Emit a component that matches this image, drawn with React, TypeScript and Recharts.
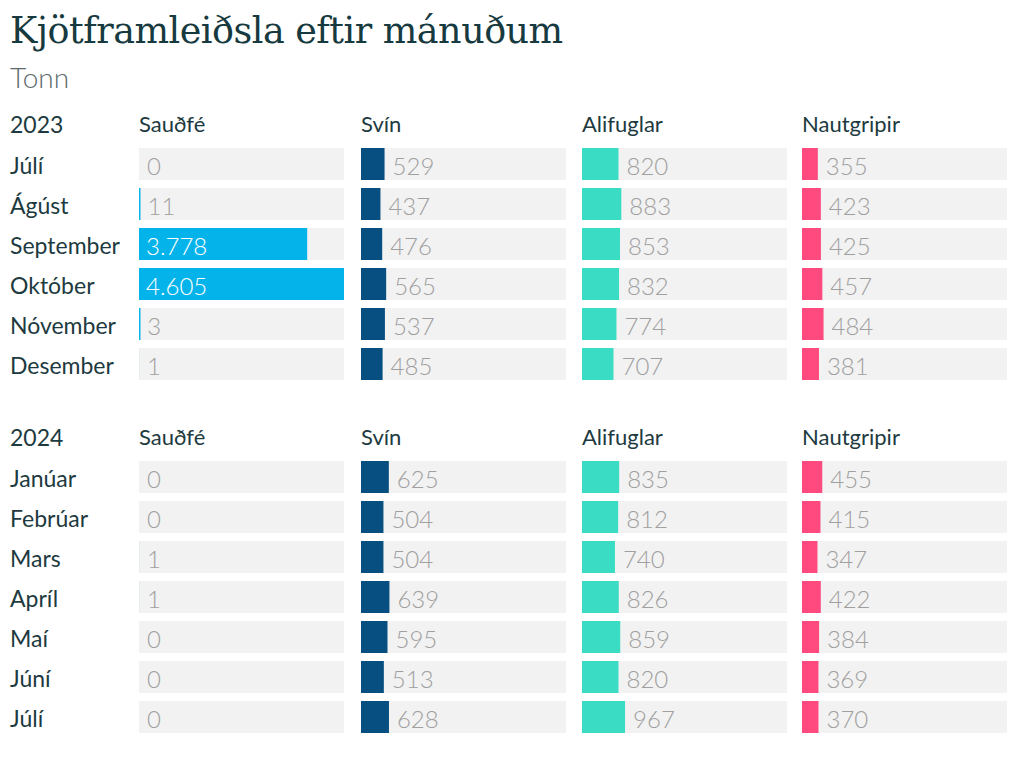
import React from "react";
import { BarChart, Bar, XAxis, YAxis, LabelList } from "recharts";

const categories = ["Sauðfé", "Svín", "Alifuglar", "Nautgripir"];
const colors = ["#04b3ea", "#064f80", "#3adcc3", "#fe4a7e"];

const months2023 = ["Júlí", "Ágúst", "September", "Október", "Nóvember", "Desember"];
const saudfe2023 = [0, 11, 3778, 4605, 3, 1];
const svin2023 = [529, 437, 476, 565, 537, 485];
const alifuglar2023 = [820, 883, 853, 832, 774, 707];
const nautgripir2023 = [355, 423, 425, 457, 484, 381];

const months2024 = ["Janúar", "Febrúar", "Mars", "Apríl", "Maí", "Júní", "Júlí"];
const saudfe2024 = [0, 0, 1, 1, 0, 0, 0];
const svin2024 = [625, 504, 504, 639, 595, 513, 628];
const alifuglar2024 = [835, 812, 740, 826, 859, 820, 967];
const nautgripir2024 = [455, 415, 347, 422, 384, 369, 370];

const MAX = 4605;
const colLeft = [139, 361, 582, 802];
const colWidth = 205;
const rowPitch = 40;

const textDark = "#1d3a40";
const FONT = "Lato, 'Noto Sans', sans-serif";

const fmt = (v: number) => String(v).replace(/\B(?=(\d{3})+(?!\d))/g, ".");

function ValueLabel(props: any) {
  const { x, y, width, height, value } = props;
  const inside = width > 60;
  return (
    <text
      x={inside ? x + 7 : x + Math.max(width, 0) + 8}
      y={y + height / 2 + 1}
      dominantBaseline="central"
      fill={inside ? "#ffffff" : "#a0a0a0"}
      fontFamily={FONT}
      fontWeight={300}
      fontSize={24}
    >
      {fmt(value)}
    </text>
  );
}

function BarShape(props: any) {
  const { x, y, width, height, fill, value } = props;
  const v = Array.isArray(value) ? value[1] : value;
  let w = width;
  if (v >= 2 && w < 1.5) w = 1.5;
  if (!(w > 0)) return null;
  return <rect x={x} y={y} width={w} height={height} fill={fill} />;
}

function MonthTick(props: any) {
  const { y, payload } = props;
  return (
    <text x={10} y={y + 1} dominantBaseline="central" fill={textDark} fontFamily={FONT} fontSize={23}>
      {payload.value}
    </text>
  );
}

function Section({ top, year, months, series }: { top: number; year: string; months: string[]; series: number[][] }) {
  const h = months.length * rowPitch;
  return (
    <>
      <div style={{ position: "absolute", left: 10, top: top - 35, fontFamily: FONT, fontSize: 23, color: textDark, lineHeight: "30px" }}>{year}</div>
      {categories.map((c, i) => (
        <div key={c} style={{ position: "absolute", left: colLeft[i], top: top - 35, fontFamily: FONT, fontSize: 22, color: textDark, lineHeight: "30px" }}>{c}</div>
      ))}
      {series.map((vals, i) => {
        const data = months.map((m, j) => ({ month: m, value: vals[j] }));
        const first = i === 0;
        const left = first ? 0 : colLeft[i];
        const width = first ? colLeft[0] + colWidth : colWidth;
        return (
          <div key={i} style={{ position: "absolute", left, top }}>
            <BarChart
              width={width}
              height={h}
              data={data}
              layout="vertical"
              margin={{ top: 0, right: 0, bottom: 0, left: 0 }}
              barCategoryGap={4}
            >
              <XAxis type="number" domain={[0, MAX]} hide />
              <YAxis
                type="category"
                dataKey="month"
                width={first ? colLeft[0] : 0}
                hide={!first}
                axisLine={false}
                tickLine={false}
                tick={<MonthTick />}
                interval={0}
              />
              <Bar
                dataKey="value"
                fill={colors[i]}
                background={{ fill: "#f2f2f2" }}
                shape={<BarShape />}
                isAnimationActive={false}
              >
                <LabelList dataKey="value" content={<ValueLabel />} />
              </Bar>
            </BarChart>
          </div>
        );
      })}
    </>
  );
}

export default function App() {
  return (
    <div style={{ position: "absolute", left: 0, top: 0, width: 1024, height: 763, background: "#ffffff", overflow: "hidden" }}>
      <div style={{ position: "absolute", left: 10, top: 9, fontFamily: "'DejaVu Serif', serif", fontSize: 36.5, color: "#173a40", lineHeight: "44px", letterSpacing: -0.5 }}>
        Kjötframleiðsla eftir mánuðum
      </div>
      <div style={{ position: "absolute", left: 10, top: 60, fontFamily: FONT, fontWeight: 300, fontSize: 28, color: "#5c6b6e", lineHeight: "34px" }}>
        Tonn
      </div>
      <Section top={144} year="2023" months={months2023} series={[saudfe2023, svin2023, alifuglar2023, nautgripir2023]} />
      <Section top={457} year="2024" months={months2024} series={[saudfe2024, svin2024, alifuglar2024, nautgripir2024]} />
    </div>
  );
}
